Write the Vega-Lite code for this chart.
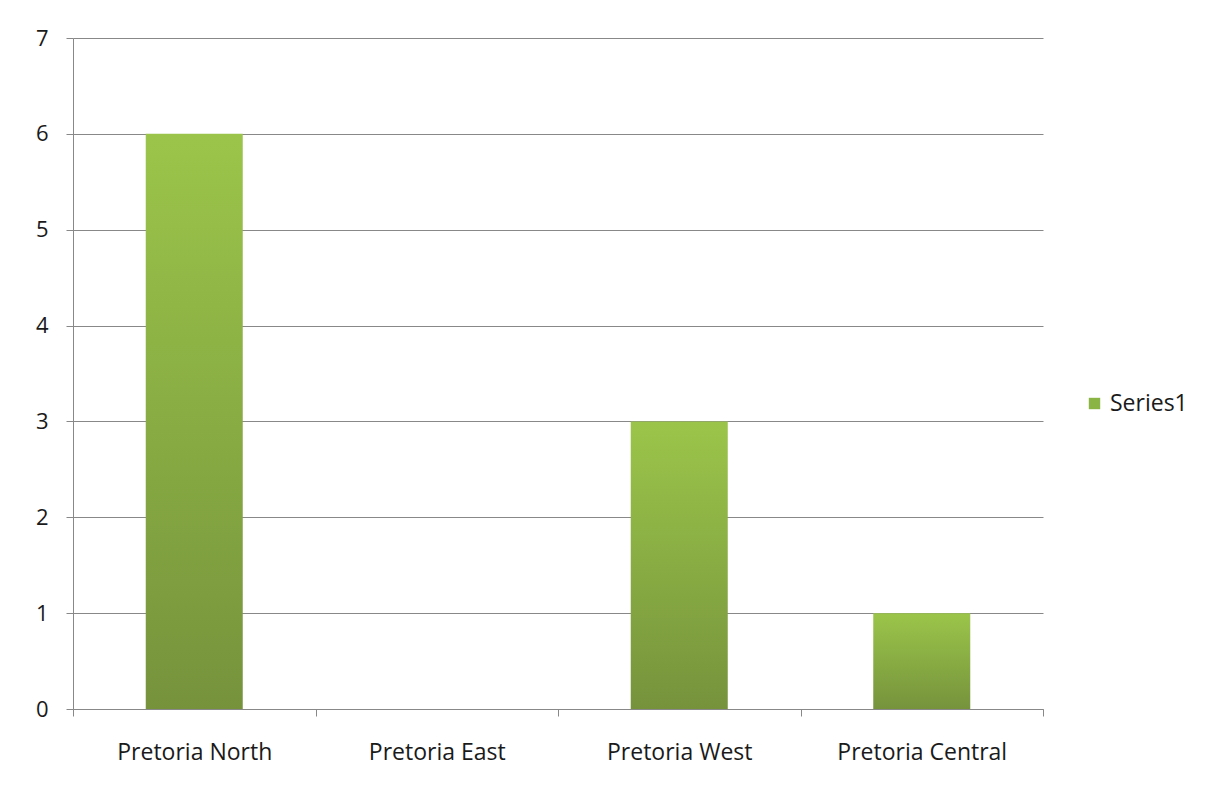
{
  "$schema": "https://vega.github.io/schema/vega-lite/v6.json",
  "width": 970,
  "height": 671,
  "autosize": {"type": "none"},
  "padding": {"left": 73, "top": 38, "right": 165, "bottom": 81},
  "background": "white",
  "config": {
    "view": {"stroke": null},
    "font": "Open Sans"
  },
  "data": {
    "values": [
      {"region": "Pretoria North", "value": 6, "series": "Series1"},
      {"region": "Pretoria East", "value": 0, "series": "Series1"},
      {"region": "Pretoria West", "value": 3, "series": "Series1"},
      {"region": "Pretoria Central", "value": 1, "series": "Series1"}
    ]
  },
  "encoding": {
    "x": {
      "field": "region",
      "type": "nominal",
      "sort": null,
      "title": null,
      "scale": {"paddingInner": 0, "paddingOuter": 0},
      "axis": {
        "labelAngle": 0,
        "labelFontSize": 23,
        "labelColor": "#1a1a1a",
        "labelPadding": 25,
        "tickBand": "extent",
        "tickSize": 7,
        "tickColor": "#888888",
        "domainColor": "#888888",
        "grid": false
      }
    },
    "y": {
      "field": "value",
      "type": "quantitative",
      "title": null,
      "scale": {"domain": [0, 7], "nice": false},
      "axis": {
        "values": [0, 1, 2, 3, 4, 5, 6, 7],
        "labelFontSize": 22,
        "labelColor": "#1a1a1a",
        "labelPadding": 18,
        "tickSize": 7,
        "tickColor": "#888888",
        "domainColor": "#888888",
        "gridColor": "#888888",
        "gridOpacity": 1,
        "grid": true
      }
    }
  },
  "layer": [
    {
      "mark": {
        "type": "bar",
        "width": {"band": 0.4},
        "fill": {
          "gradient": "linear",
          "x1": 0, "y1": 0, "x2": 0, "y2": 1,
          "stops": [
            {"offset": 0, "color": "#9BC54A"},
            {"offset": 1, "color": "#76933C"}
          ]
        }
      }
    },
    {
      "mark": {"type": "point", "opacity": 0, "shape": "square", "filled": true},
      "encoding": {
        "color": {
          "field": "series",
          "type": "nominal",
          "scale": {"range": ["#8AB443"]},
          "legend": {
            "title": null,
            "orient": "none",
            "legendX": 1010,
            "legendY": 354,
            "symbolType": "square",
            "symbolSize": 130,
            "symbolOpacity": 1,
            "symbolStrokeWidth": 0,
            "labelFontSize": 23,
            "labelColor": "#1a1a1a",
            "labelOffset": 4
          }
        }
      }
    }
  ]
}
